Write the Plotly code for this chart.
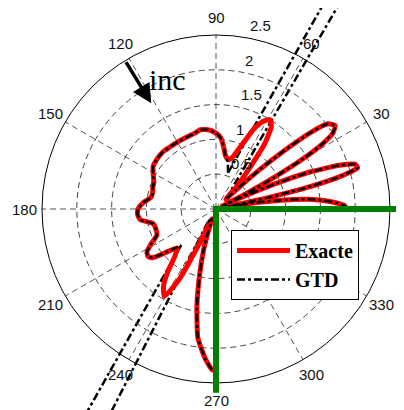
import numpy as np
import plotly.graph_objects as go

# ---------------- data ----------------
exact_theta = [0, 1.5, 3, 4.5, 6, 7.5, 9, 10.5, 11,
               12, 13.2, 14.5, 16.2, 17.8, 19.5, 21.5, 23, 24.5, 25.5,
               27, 28.5, 30, 31.5, 33, 35, 37.3, 39, 40.5, 42, 43.5, 45,
               47, 50.5, 53.4, 56, 58.5, 61, 63, 64.6, 67, 69, 72, 76, 80, 83, 86, 90,
               95, 101, 106, 112, 120, 127, 133, 140, 146, 152, 157, 161, 166, 170, 175,
               180, 184, 188, 193, 198, 204, 208, 212, 215, 217.5, 221, 225,
               229, 232.5, 236, 239.5, 241.5, 242.5, 244, 246, 248,
               251, 253, 255.7, 258.8, 262, 265.8, 268.6, 270]
exact_r = [1.88, 1.85, 1.72, 1.55, 1.33, 1.0, 0.62, 0.25, 0.1,
           0.55, 1.3, 1.8, 2.12, 2.1, 1.88, 1.45, 0.95, 0.4, 0.1,
           0.5, 0.95, 1.45, 1.8, 2.0, 2.09, 2.02, 1.74, 1.3, 0.85, 0.4, 0.2,
           0.4, 0.73, 1.18, 1.42, 1.5, 1.45, 1.37, 1.28, 1.07, 0.94, 0.79, 0.73, 0.78, 0.9, 1.02, 1.09,
           1.14, 1.16, 1.13, 1.115, 1.11, 1.11, 1.12, 1.11, 1.09, 1.02, 0.97, 0.96, 0.94, 0.95, 1.05,
           1.12, 1.13, 1.1, 0.93, 0.91, 0.93, 1.05, 1.17, 1.19, 1.15, 0.95, 0.79,
           0.9, 1.14, 1.35, 1.46, 1.25, 1.12, 0.62, 0.2, 0.15,
           0.35, 0.6, 0.93, 1.41, 1.87, 2.15, 2.31, 2.32]

gtd_theta = [0, 1.5, 3, 4.5, 6, 7.5, 9, 10.5, 11,
             12, 13.2, 14.5, 16.2, 17.8, 19.5, 21.5, 23, 24.5, 25.5,
             27, 28.5, 30, 31.5, 33, 35, 37.3, 39, 40.5, 42, 43.5, 45, None,
             71.6, 74, 76, 80, 83, 86, 90,
             95, 101, 106, 112, 120, 127, 133, 140, 146, 152, 157, 161, 166, 170, 175,
             180, 184, 188, 193, 198, 204, 208, 212, 215, 217.5, 221, 224, 226, None,
             238, 248, 251, 253, 255.7, 258.8, 262, 265.8, 268.6, 270]
gtd_r = [1.88, 1.85, 1.72, 1.55, 1.33, 1.0, 0.62, 0.25, 0.1,
         0.55, 1.3, 1.8, 2.12, 2.1, 1.88, 1.45, 0.95, 0.4, 0.1,
         0.5, 0.95, 1.45, 1.8, 2.0, 2.09, 2.02, 1.74, 1.3, 0.85, 0.4, 0.2, None,
         0.55, 0.62, 0.7, 0.78, 0.9, 1.02, 1.09,
         1.14, 1.16, 1.13, 1.115, 1.11, 1.11, 1.12, 1.11, 1.09, 1.02, 0.97, 0.96, 0.94, 0.95, 1.05,
         1.12, 1.13, 1.1, 0.93, 0.91, 0.93, 1.05, 1.17, 1.19, 1.15, 0.95, 0.8, 0.72, None,
         0.22, 0.15, 0.35, 0.6, 0.93, 1.41, 1.87, 2.15, 2.31, 2.32]

# GTD diverging branches near the shadow/reflection boundaries
branch_theta_start = [45, 71.6, 226, 238]
branch_r_start = [0.2, 0.55, 0.72, 0.22]
branch_theta_end = [59.1, 62.15, 237.8, 242.7]
branch_r_end = [3.83, 3.72, 3.75, 3.57]

ring_values = [0.5, 1, 1.5, 2, 2.5]
ring_labels = ["0.5", "1", "1.5", "2", "2.5"]
angle_ticks = [0, 30, 60, 90, 120, 150, 180, 210, 240, 270, 300, 330]
label_angles = [30, 60, 90, 120, 150, 180, 210, 240, 270, 300, 330]
angle_labels = ["30", "60", "90", "120", "150", "180", "210", "240", "270", "300", "330"]

wedge_face_theta = [0, 270]
wedge_face_len = [2.8, 2.64]

inc_theta = 121.5
inc_r = [2.5, 1.78]
inc_label_pos = (110.3, 1.99)

# ---------------- layout geometry ----------------
BODY = 8                   # page body margin of the html page
W, H = 404 - BODY, 410 - BODY
CX, CY = 216 - BODY, 209 - BODY   # centre in figure pixels (from top-left)
R_PX = 174
RMAX = 2.5
S = R_PX / RMAX            # px per unit


def pol2xy(th, r):
    t = np.deg2rad(th)
    return r * np.cos(t), r * np.sin(t)


fig = go.Figure()

# GTD branches (cartesian overlay so they run past the outer circle)
bx, by = [], []
for t0, r0, t1, r1 in zip(branch_theta_start, branch_r_start, branch_theta_end, branch_r_end):
    x0, y0 = pol2xy(t0, r0)
    x1, y1 = pol2xy(t1, r1)
    bx += [x0, x1, None]
    by += [y0, y1, None]
fig.add_trace(go.Scatter(x=bx, y=by, mode="lines", xaxis="x", yaxis="y",
                         line=dict(color="black", width=2.5, dash="8px,3px,3px,3px"),
                         showlegend=False, legendgroup="gtd", hoverinfo="skip"))

fig.add_trace(go.Scatterpolar(theta=exact_theta, r=exact_r, mode="lines", name="Exacte",
                              line=dict(color="#ff0000", width=5, shape="spline", smoothing=0.5)))
fig.add_trace(go.Scatterpolar(theta=gtd_theta, r=gtd_r, mode="lines", name="GTD",
                              legendgroup="gtd", connectgaps=False,
                              line=dict(color="black", width=2.5, dash="8px,3px,3px,3px",
                                        shape="spline", smoothing=0.5)))

annotations = []
lab_font = dict(family="Liberation Sans", size=15, color="#111")
# radial labels (MATLAB style: at 82 deg, left/bottom aligned)
for rv, lab in zip(ring_values, ring_labels):
    x, y = pol2xy(82, rv)
    annotations.append(dict(x=x, y=y, xref="x", yref="y", text=lab, showarrow=False,
                            xanchor="left", yanchor="middle", xshift=8, yshift=11,
                            font=lab_font))
# angular labels at 1.1 * rmax
for a, lab in zip(label_angles, angle_labels):
    x, y = pol2xy(a, RMAX * 1.1)
    annotations.append(dict(x=x, y=y, xref="x", yref="y", text=lab, showarrow=False,
                            xanchor="center", yanchor="middle", font=lab_font))

# wedge faces (green)
fx0, fy0 = pol2xy(wedge_face_theta[0], wedge_face_len[0])
fx1, fy1 = pol2xy(wedge_face_theta[1], wedge_face_len[1])
shapes = [dict(type="path", xref="x", yref="y", layer="above",
               path=f"M {fx0:.4f},{fy0:.4f} L 0,0 L {fx1:.4f},{fy1:.4f}",
               line=dict(color="#008000", width=6))]

ax0, ay0 = pol2xy(inc_theta, inc_r[0])
ax1, ay1 = pol2xy(inc_theta, inc_r[1])
lx, ly = pol2xy(*inc_label_pos)
annotations += [
    dict(x=ax1, y=ay1, ax=ax0, ay=ay0, xref="x", yref="y", axref="x", ayref="y",
         text="", showarrow=True, arrowhead=2, arrowsize=1.1, arrowwidth=3.5,
         arrowcolor="black", standoff=0),
    dict(x=lx, y=ly, xref="x", yref="y", text="inc", showarrow=False,
         font=dict(family="Liberation Serif", size=30, color="black"),
         xanchor="center", yanchor="middle"),
]

fig.update_layout(
    width=W, height=H,
    margin=dict(l=0, r=0, t=0, b=0),
    paper_bgcolor="white", plot_bgcolor="white",
    xaxis=dict(domain=[0, 1], range=[-CX / S, (W - CX) / S], visible=False, fixedrange=True),
    yaxis=dict(domain=[0, 1], range=[-(H - CY) / S, CY / S], visible=False, fixedrange=True),
    polar=dict(
        domain=dict(x=[(CX - R_PX) / W, (CX + R_PX) / W],
                    y=[(H - CY - R_PX) / H, (H - CY + R_PX) / H]),
        bgcolor="rgba(0,0,0,0)",
        radialaxis=dict(range=[0, RMAX], tickvals=ring_values, showticklabels=False, ticks="",
                        showline=False, gridcolor="#444", griddash="6px,4px", gridwidth=1),
        angularaxis=dict(tickvals=angle_ticks, showticklabels=False, ticks="",
                         showline=True, linecolor="black", linewidth=1,
                         gridcolor="#555", griddash="6px,4px", gridwidth=1,
                         direction="counterclockwise", rotation=0),
    ),
    legend=dict(x=(231 - BODY) / W, y=(H - (230 - BODY)) / H, xanchor="left", yanchor="top",
                bgcolor="white", bordercolor="black", borderwidth=1,
                font=dict(family="Liberation Serif", size=20, color="black", weight="bold"),
                itemwidth=53, tracegroupgap=0),
    shapes=shapes,
    annotations=annotations,
    showlegend=True,
)

fig.write_html("out.html")
